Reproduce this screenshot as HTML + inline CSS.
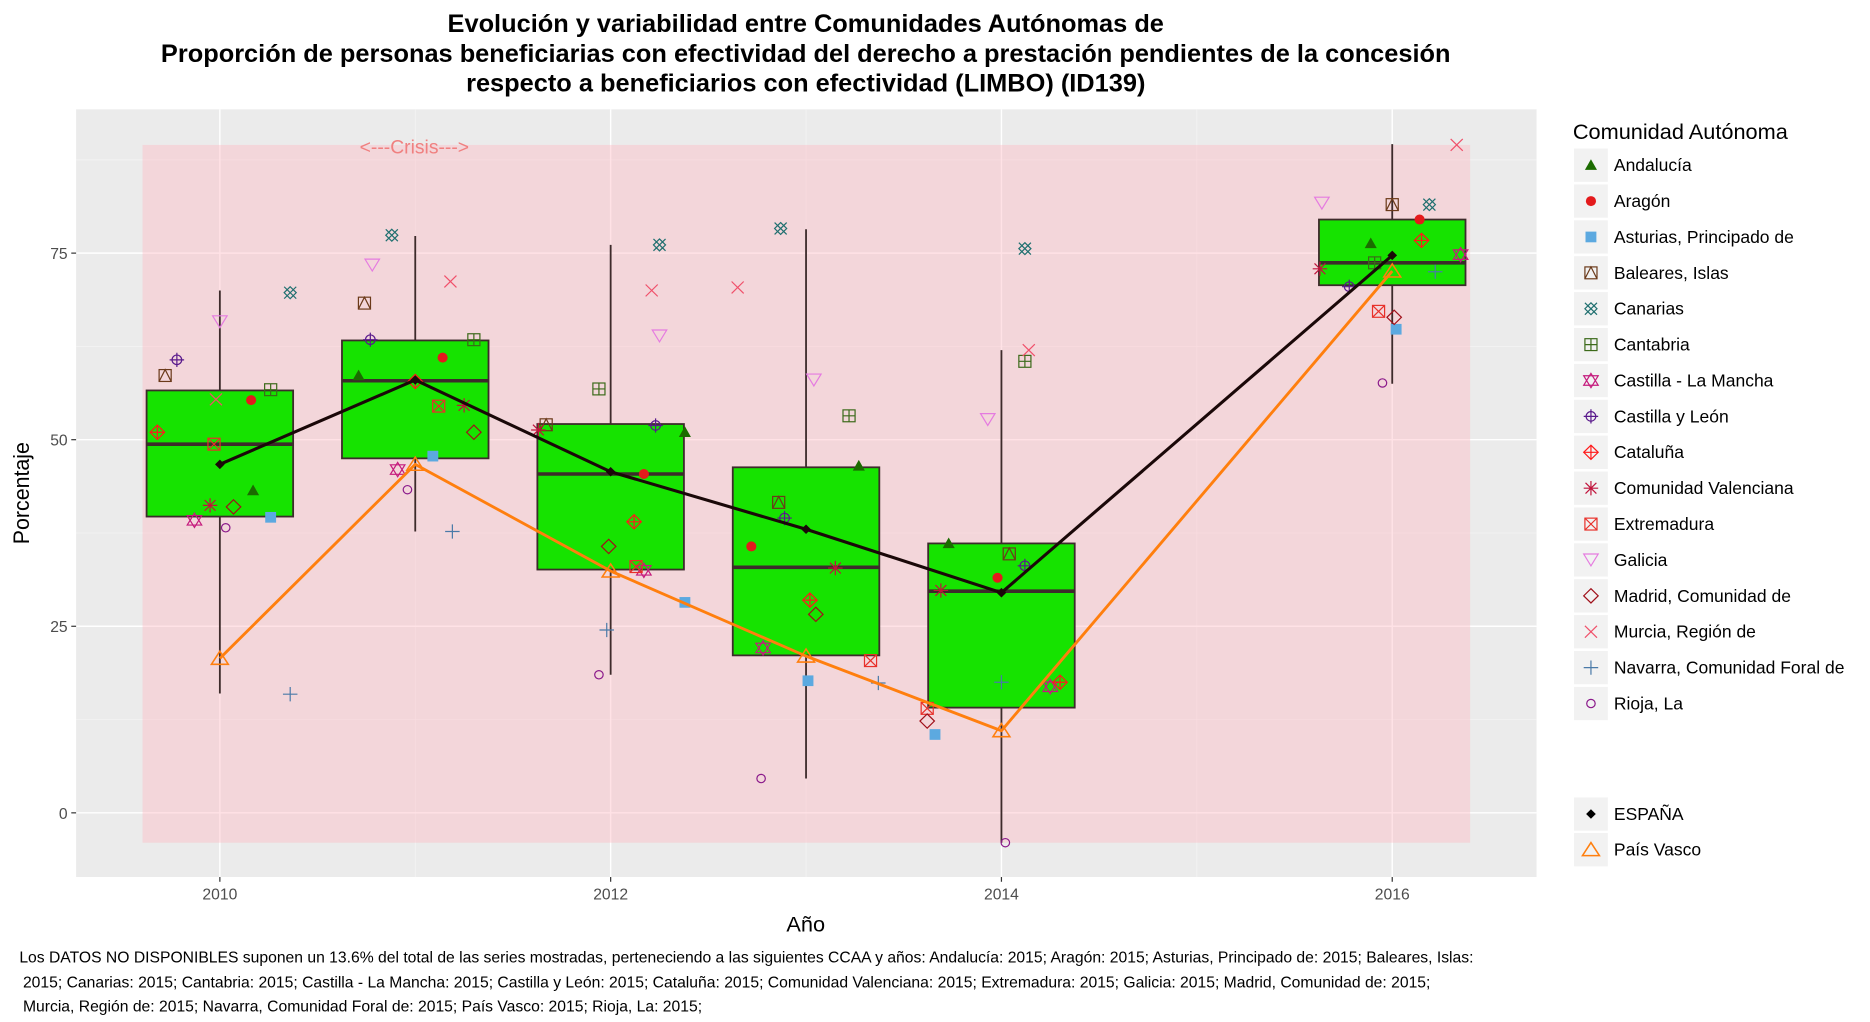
<!DOCTYPE html>
<html><head><meta charset="utf-8"><style>
html,body{margin:0;padding:0;background:#fff;}
svg{display:block;font-family:"Liberation Sans",Arial,sans-serif;}
</style></head><body>
<svg id="chart" width="1870" height="1022" viewBox="0 0 1548 860" preserveAspectRatio="none" xmlns="http://www.w3.org/2000/svg">
<g font-weight="bold" font-size="21" text-anchor="middle" fill="#000">
<text x="667" y="27">Evolución y variabilidad entre Comunidades Autónomas de</text>
<text x="667" y="52">Proporción de personas beneficiarias con efectividad del derecho a prestación pendientes de la concesión</text>
<text x="667" y="77">respecto a beneficiarios con efectividad (LIMBO) (ID139)</text>
</g>
<rect x="63" y="92" width="1209" height="646" fill="#ebebeb"/>
<g id="grid"></g>
<g id="marks"></g>
<g id="axes"></g>
<g id="legend"></g>
<text x="667" y="784" font-size="18" text-anchor="middle">Año</text>
<text transform="translate(24,415) rotate(-90)" font-size="18" text-anchor="middle">Porcentaje</text>
<g font-size="13" fill="#000">
<text x="16" y="810">Los DATOS NO DISPONIBLES suponen un 13.6% del total de las series mostradas, perteneciendo a las siguientes CCAA y años: Andalucía: 2015; Aragón: 2015; Asturias, Principado de: 2015; Baleares, Islas:</text>
<text x="19" y="831">2015; Canarias: 2015; Cantabria: 2015; Castilla - La Mancha: 2015; Castilla y León: 2015; Cataluña: 2015; Comunidad Valenciana: 2015; Extremadura: 2015; Galicia: 2015; Madrid, Comunidad de: 2015;</text>
<text x="19" y="851">Murcia, Región de: 2015; Navarra, Comunidad Foral de: 2015; País Vasco: 2015; Rioja, La: 2015;</text>
</g>
</svg>
<script>
const years=[2010,2011,2012,2013,2014,2016];
const xTicks=[2010,2012,2014,2016];
const yTicks=[0,25,50,75];
const boxLow=[16,37.7,18.5,4.6,-4,57.5];
const boxQ1=[39.7,47.5,32.6,21.1,14.1,70.7];
const boxMed=[49.4,57.9,45.4,32.9,29.7,73.7];
const boxQ3=[56.6,63.3,52.1,46.3,36.1,79.5];
const boxHigh=[70,77.3,76.1,78.2,62,89.6];
const espana=[46.7,58,45.7,38,29.5,74.7];
const paisVasco=[20.7,46.7,32.4,21,11,72.6];
const regions=["Andalucía","Aragón","Asturias, Principado de","Baleares, Islas","Canarias","Cantabria","Castilla - La Mancha","Castilla y León","Cataluña","Comunidad Valenciana","Extremadura","Galicia","Madrid, Comunidad de","Murcia, Región de","Navarra, Comunidad Foral de","Rioja, La"];
const regionValues=[
[43.2,58.6,51,46.5,36.1,76.3],
[55.3,61,45.4,35.7,31.5,79.5],
[39.6,47.8,28.2,17.7,10.5,64.8],
[58.6,68.3,52,41.6,34.7,81.5],
[69.7,77.4,76.1,78.3,75.6,81.5],
[56.7,63.4,56.8,53.2,60.5,73.7],
[39.2,46,32.5,22.1,16.9,74.8],
[60.7,63.4,51.9,39.5,33.1,70.5],
[51,57.8,39,28.5,17.5,76.7],
[41.2,54.6,51.3,32.8,29.8,72.9],
[49.4,54.5,33,20.4,14,67.2],
[65.8,73.4,63.9,58,52.7,81.7],
[41,51,35.7,26.6,12.3,66.4],
[55.4,71.2,70,70.4,62,89.5],
[15.9,37.7,24.5,17.4,17.5,72.5],
[38.2,43.3,18.5,4.6,-4,57.6]];
const jitter=[
[.17,-.29,.38,.27,-.27,-.11],[.16,.14,.17,-.28,-.02,.14],[.26,.09,.38,.01,-.34,.02],
[-.28,-.26,-.33,-.14,.04,0],[.36,-.12,.25,-.13,.12,.19],[.26,.30,-.06,.22,.12,-.09],
[-.13,-.09,.17,-.22,.25,.35],[-.22,-.23,.23,-.11,.12,-.22],[-.32,0,.12,.02,.30,.15],
[-.05,.25,-.37,.15,-.31,-.37],[-.03,.12,.13,.33,-.38,-.07],[0,-.22,.25,.04,-.07,-.36],
[.07,.30,-.01,.05,-.38,.01],[-.02,.18,.21,-.35,.14,.33],[.36,.19,-.02,.37,0,.22],
[.03,-.04,-.06,-.23,.02,-.05]];
const shapes=["triF","dot","sq","sqTri","canar","sqPlus","star","cPlus","dPlus","ast","sqX","triDown","diam","x","plus","circ"];
const colors=["#1b6b00","#e41a1c","#5ca9e0","#6b3a1a","#1f6f6f","#3c6a1a","#c51b7d","#5a1a8c","#ff1a1a","#c0143c","#e8302a","#e57be0","#a0101a","#f0506a","#4a7aa8","#8b1a8b"];
const NS="http://www.w3.org/2000/svg";
const X=v=>182+(v-2010)*161.75;
const Y=v=>684-v*6.28;
function el(tag,attrs,parent){const e=document.createElementNS(NS,tag);for(const k in attrs)e.setAttribute(k,attrs[k]);parent.appendChild(e);return e;}
function shape(type,cx,cy,col,parent){
 const g=el("g",{fill:"none",stroke:col,"stroke-width":1},parent);
 const r=5;
 switch(type){
 case"triF":el("polygon",{points:`${cx},${cy-5} ${cx+5},${cy+4} ${cx-5},${cy+4}`,fill:col,stroke:"none"},g);break;
 case"dot":el("circle",{cx,cy,r:4.2,fill:col,stroke:"none"},g);break;
 case"sq":el("rect",{x:cx-4.5,y:cy-4.5,width:9,height:9,fill:col,stroke:"none"},g);break;
 case"sqTri":el("rect",{x:cx-r,y:cy-r,width:10,height:10},g);el("polyline",{points:`${cx-r},${cy+r} ${cx},${cy-r} ${cx+r},${cy+r}`},g);break;
 case"canar":el("path",{d:`M${cx-r},${cy-r}L${cx+r},${cy+r}M${cx+r},${cy-r}L${cx-r},${cy+r}`},g);el("polygon",{points:`${cx},${cy-r} ${cx+r},${cy} ${cx},${cy+r} ${cx-r},${cy}`},g);break;
 case"sqPlus":el("rect",{x:cx-r,y:cy-r,width:10,height:10},g);el("path",{d:`M${cx},${cy-r}V${cy+r}M${cx-r},${cy}H${cx+r}`},g);break;
 case"star":el("polygon",{points:`${cx},${cy-6} ${cx+6},${cy+4} ${cx-6},${cy+4}`},g);el("polygon",{points:`${cx},${cy+6} ${cx+6},${cy-4} ${cx-6},${cy-4}`},g);break;
 case"cPlus":el("circle",{cx,cy,r:4},g);el("path",{d:`M${cx},${cy-6}V${cy+6}M${cx-6},${cy}H${cx+6}`},g);break;
 case"dPlus":el("polygon",{points:`${cx},${cy-6} ${cx+6},${cy} ${cx},${cy+6} ${cx-6},${cy}`},g);el("path",{d:`M${cx},${cy-6}V${cy+6}M${cx-6},${cy}H${cx+6}`},g);break;
 case"ast":el("path",{d:`M${cx},${cy-6}V${cy+6}M${cx-6},${cy}H${cx+6}M${cx-4.5},${cy-4.5}L${cx+4.5},${cy+4.5}M${cx+4.5},${cy-4.5}L${cx-4.5},${cy+4.5}`},g);break;
 case"sqX":el("rect",{x:cx-r,y:cy-r,width:10,height:10},g);el("path",{d:`M${cx-r},${cy-r}L${cx+r},${cy+r}M${cx+r},${cy-r}L${cx-r},${cy+r}`},g);break;
 case"triDown":el("polygon",{points:`${cx-6},${cy-5} ${cx+6},${cy-5} ${cx},${cy+5}`},g);break;
 case"diam":el("polygon",{points:`${cx},${cy-6} ${cx+6},${cy} ${cx},${cy+6} ${cx-6},${cy}`},g);break;
 case"x":el("path",{d:`M${cx-5},${cy-5}L${cx+5},${cy+5}M${cx+5},${cy-5}L${cx-5},${cy+5}`},g);break;
 case"plus":el("path",{d:`M${cx},${cy-6}V${cy+6}M${cx-6},${cy}H${cx+6}`},g);break;
 case"circ":el("circle",{cx,cy,r:3.5},g);break;
 case"diamF":el("polygon",{points:`${cx},${cy-4} ${cx+4},${cy} ${cx},${cy+4} ${cx-4},${cy}`,fill:col,stroke:"none"},g);break;
 case"triO":el("polygon",{points:`${cx},${cy-6} ${cx+7},${cy+5} ${cx-7},${cy+5}`,"stroke-width":1.3},g);break;
 }
 return g;
}
const grid=document.getElementById("grid"),marks=document.getElementById("marks"),axes=document.getElementById("axes"),legend=document.getElementById("legend");
// minor grid
for(let v=12.5;v<90;v+=25){const l=el("line",{x1:63,x2:1272,y1:Y(v),y2:Y(v),stroke:"#f5f5f5","stroke-width":0.6},grid);}
for(let v=2011;v<2017;v+=2){const l=el("line",{x1:X(v),x2:X(v),y1:92,y2:738,stroke:"#f5f5f5","stroke-width":0.6},grid);}
yTicks.forEach(v=>{const l=el("line",{x1:63,x2:1272,y1:Y(v),y2:Y(v),stroke:"#fff","stroke-width":1.2},grid);
 const t=el("text",{x:56,y:Y(v)+5,"font-size":13,"text-anchor":"end",fill:"#4d4d4d"},axes);t.textContent=v;
 el("line",{x1:59,x2:63,y1:Y(v),y2:Y(v),stroke:"#333"},axes);});
xTicks.forEach(v=>{const l=el("line",{x1:X(v),x2:X(v),y1:92,y2:738,stroke:"#fff","stroke-width":1.2},grid);
 const t=el("text",{x:X(v),y:757,"font-size":13,"text-anchor":"middle",fill:"#4d4d4d"},axes);t.textContent=v;
 el("line",{x1:X(v),x2:X(v),y1:738,y2:742,stroke:"#333"},axes);});
// crisis band
const band=el("rect",{x:118,y:Y(89.5),width:1099,height:Y(-4)-Y(89.5),fill:"#ffb6c1","fill-opacity":0.4},marks);

const ct=el("text",{x:343,y:129,"font-size":16,"text-anchor":"middle",fill:"#f08080"},marks);ct.textContent="<---Crisis--->";

// boxes
const hw=0.375;
years.forEach((yr,i)=>{
 const g=el("g",{},marks);
 el("line",{x1:X(yr),x2:X(yr),y1:Y(boxHigh[i]),y2:Y(boxQ3[i]),stroke:"#3d2b2b","stroke-width":1.5},g);
 el("line",{x1:X(yr),x2:X(yr),y1:Y(boxQ1[i]),y2:Y(boxLow[i]),stroke:"#3d2b2b","stroke-width":1.5},g);
 el("rect",{x:X(yr-hw),y:Y(boxQ3[i]),width:X(yr+hw)-X(yr-hw),height:Y(boxQ1[i])-Y(boxQ3[i]),fill:"#16e300",stroke:"#3d2b2b","stroke-width":1.5},g);
 el("line",{x1:X(yr-hw),x2:X(yr+hw),y1:Y(boxMed[i]),y2:Y(boxMed[i]),stroke:"#3d2b2b","stroke-width":3},g);
});
// points
regions.forEach((r,ri)=>{
 years.forEach((yr,i)=>{
  const v=regionValues[ri][i];if(v==null)return;
  const p=shape(shapes[ri],X(yr+jitter[ri][i]),Y(v),colors[ri],marks);
  
 });
});
// lines
function series(vals,col,w,name,sh){
 const pts=years.map((yr,i)=>X(yr)+","+Y(vals[i])).join(" ");
 const pl=el("polyline",{points:pts,fill:"none",stroke:col,"stroke-width":w,"stroke-linejoin":"round"},marks);
 
 years.forEach((yr,i)=>{const p=shape(sh,X(yr),Y(vals[i]),col,marks);});
}
series(paisVasco,"#ff7f0e",2.4,"pais-vasco","triO");
series(espana,"#1a0808",2.6,"espana","diamF");
// legend
const lt=el("text",{x:1302,y:117,"font-size":18},legend);lt.textContent="Comunidad Autónoma";

regions.forEach((r,i)=>{
 const cy=139+i*30.2;
 const g=el("g",{},legend);
 el("rect",{x:1303,y:cy-14,width:28,height:28,fill:"#f2f2f2"},g);
 shape(shapes[i],1317,cy,colors[i],g);
 const t=el("text",{x:1336,y:cy+5,"font-size":14.5},g);t.textContent=r;
});
[["ESPAÑA","diamF","#000"],["País Vasco","triO","#ff7f0e"]].forEach((e,i)=>{
 const cy=685+i*30;
 const g=el("g",{},legend);
 el("rect",{x:1303,y:cy-14,width:28,height:28,fill:"#f2f2f2"},g);
 shape(e[1],1317,cy,e[2],g);
 const t=el("text",{x:1336,y:cy+5,"font-size":14.5},g);t.textContent=e[0];
});
</script>
</body></html>
